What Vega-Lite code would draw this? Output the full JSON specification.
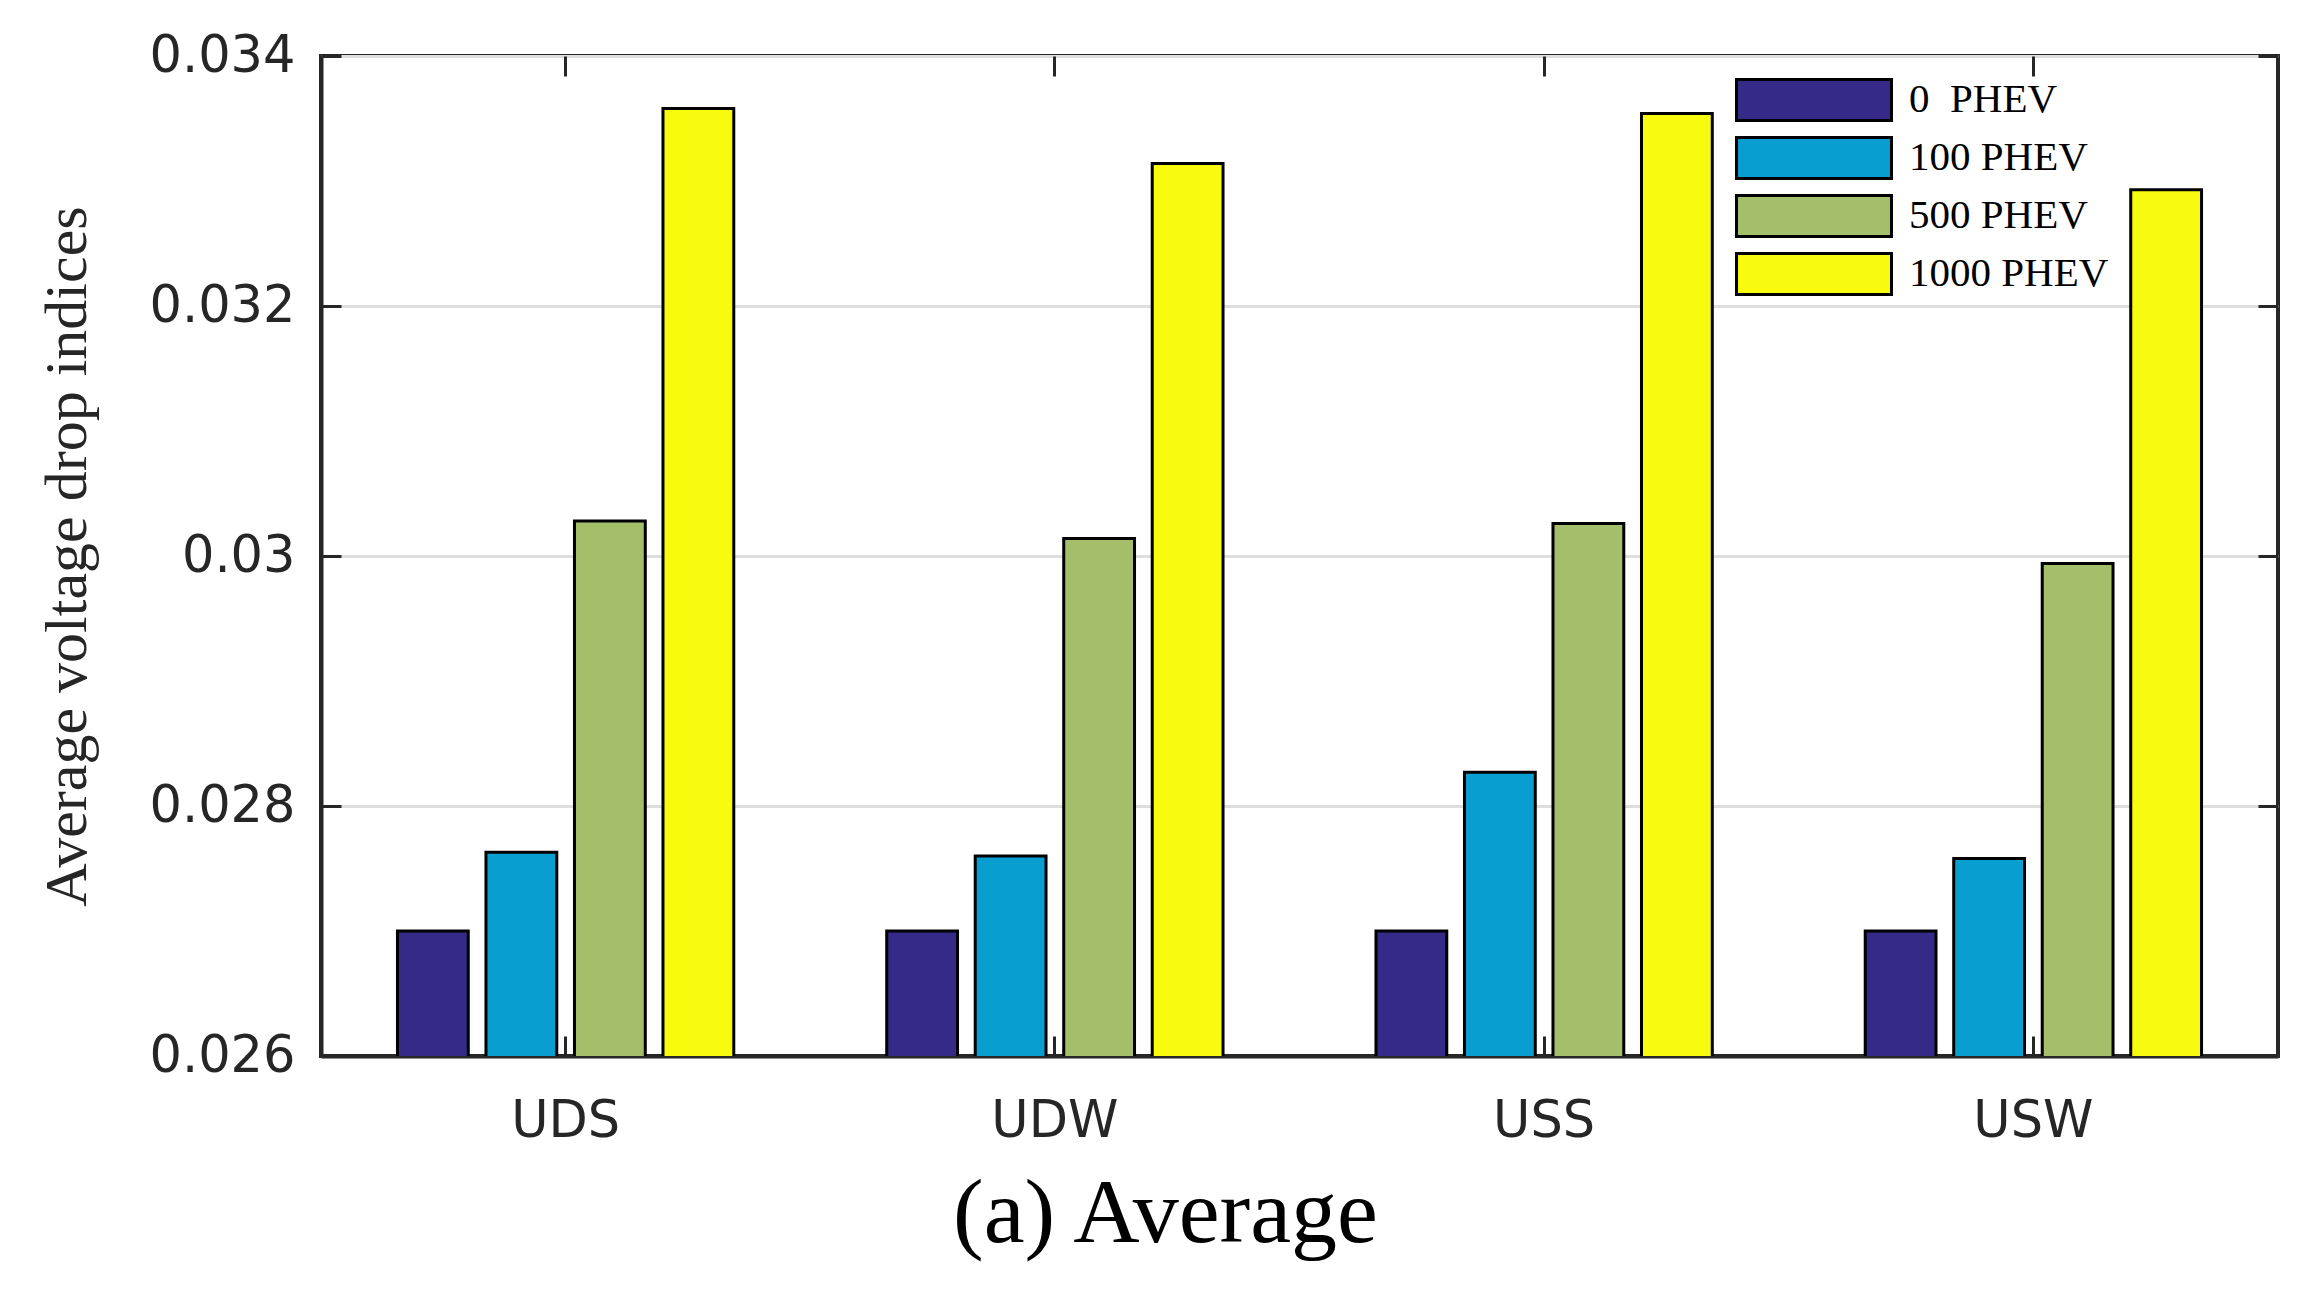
{
  "$schema": "https://vega.github.io/schema/vega-lite/v6.json",
  "width": 1957,
  "height": 1000,
  "autosize": "none",
  "padding": {"left": 321, "top": 56, "right": 34, "bottom": 240},
  "background": "white",
  "config": {
    "view": {"stroke": "#262626", "strokeWidth": 4},
    "axis": {
      "domainColor": "#262626",
      "domainWidth": 4,
      "tickColor": "#262626",
      "tickWidth": 3,
      "tickSize": -20,
      "labelFont": "DejaVu Sans",
      "labelFontSize": 51,
      "labelColor": "#262626",
      "gridColor": "#dedede",
      "gridWidth": 3
    },
    "legend": {
      "symbolType": "M-3.78,-1H3.78V1H-3.78Z",
      "symbolSize": 1681,
      "symbolStrokeColor": "black",
      "symbolStrokeWidth": 3,
      "symbolOpacity": 1,
      "labelFont": "Liberation Serif",
      "labelFontSize": 41,
      "labelColor": "black",
      "labelOffset": 73,
      "labelLimit": 500,
      "rowPadding": 4
    }
  },
  "data": {
    "values": [
      {"group": "UDS", "series": "0\u00a0 PHEV", "value": 0.02700},
      {"group": "UDS", "series": "100 PHEV", "value": 0.02763},
      {"group": "UDS", "series": "500 PHEV", "value": 0.03028},
      {"group": "UDS", "series": "1000 PHEV", "value": 0.03358},
      {"group": "UDW", "series": "0\u00a0 PHEV", "value": 0.02700},
      {"group": "UDW", "series": "100 PHEV", "value": 0.02760},
      {"group": "UDW", "series": "500 PHEV", "value": 0.03014},
      {"group": "UDW", "series": "1000 PHEV", "value": 0.03314},
      {"group": "USS", "series": "0\u00a0 PHEV", "value": 0.02700},
      {"group": "USS", "series": "100 PHEV", "value": 0.02827},
      {"group": "USS", "series": "500 PHEV", "value": 0.03026},
      {"group": "USS", "series": "1000 PHEV", "value": 0.03354},
      {"group": "USW", "series": "0\u00a0 PHEV", "value": 0.02700},
      {"group": "USW", "series": "100 PHEV", "value": 0.02758},
      {"group": "USW", "series": "500 PHEV", "value": 0.02994},
      {"group": "USW", "series": "1000 PHEV", "value": 0.03293}
    ]
  },
  "layer": [
    {
      "mark": {"type": "bar", "stroke": "black", "strokeWidth": 3, "clip": true},
      "encoding": {
        "x": {
          "field": "group",
          "type": "nominal",
          "scale": {"paddingInner": 0, "paddingOuter": 0},
          "axis": {
            "orient": "bottom",
            "title": "(a) Average",
            "titleFont": "Liberation Serif",
            "titleFontSize": 92,
            "titleFontWeight": "normal",
            "titleColor": "black",
            "titlePadding": 22,
            "titleX": 844,
            "titleAlign": "center",
            "labelAngle": 0,
            "labelPadding": 60,
            "grid": false
          }
        },
        "xOffset": {
          "field": "series",
          "type": "nominal",
          "sort": ["0\u00a0 PHEV", "100 PHEV", "500 PHEV", "1000 PHEV"],
          "scale": {"paddingInner": 0.2, "paddingOuter": 0.864}
        },
        "y": {
          "field": "value",
          "type": "quantitative",
          "scale": {"domain": [0.026, 0.034], "zero": false, "nice": false},
          "axis": {
            "orient": "left",
            "values": [0.026, 0.028, 0.03, 0.032, 0.034],
            "format": "~g",
            "grid": true,
            "labelPadding": 46,
            "title": "Average voltage drop indices",
            "titleFont": "Liberation Serif",
            "titleFontSize": 60,
            "titleFontWeight": "normal",
            "titleColor": "#262626",
            "titlePadding": 50
          }
        },
        "color": {
          "field": "series",
          "type": "nominal",
          "scale": {
            "domain": ["0\u00a0 PHEV", "100 PHEV", "500 PHEV", "1000 PHEV"],
            "range": ["#352A87", "#089ECF", "#A5BE69", "#F9FB0E"]
          },
          "legend": {"title": null, "orient": "none", "legendX": 1471, "legendY": 22}
        }
      }
    },
    {
      "mark": {"type": "bar", "opacity": 0},
      "encoding": {
        "x": {
          "field": "group",
          "type": "nominal",
          "axis": {"orient": "top", "title": null, "labels": false, "domain": false, "grid": false}
        },
        "y": {
          "field": "value",
          "type": "quantitative",
          "axis": {"orient": "right", "title": null, "labels": false, "domain": false, "grid": false, "values": [0.026, 0.028, 0.03, 0.032, 0.034]}
        }
      }
    }
  ],
  "resolve": {"axis": {"x": "independent", "y": "independent"}}
}
